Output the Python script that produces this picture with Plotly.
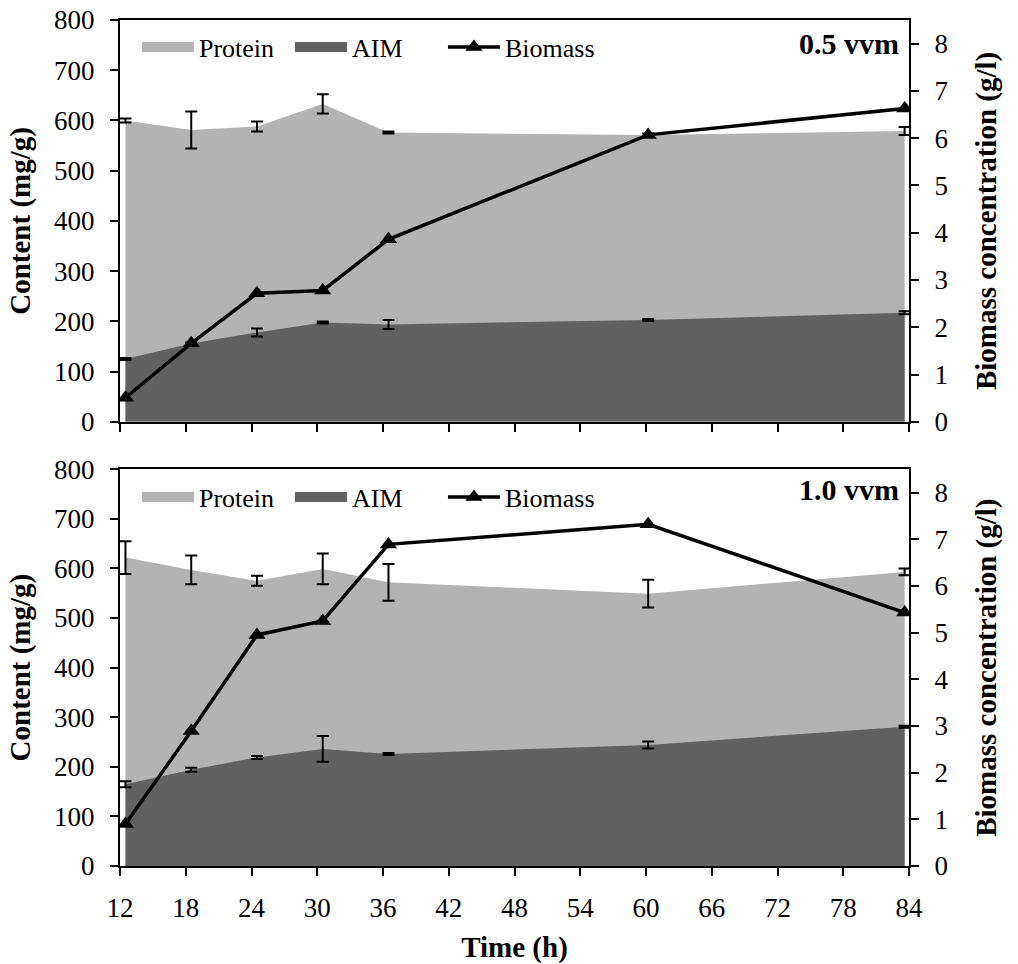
import plotly.graph_objects as go

# ---- data ----
time_h = [12.5, 18.5, 24.5, 30.5, 36.5, 60.2, 83.6]

protein_05 = [600, 581, 588, 633, 576, 571, 579]
protein_05_err = [4, 37, 10, 19, 2, 3, 8]
aim_05 = [125, 156, 178, 198, 194, 203, 217]
aim_05_err = [2, 2, 8, 2, 9, 2, 3]
biomass_05 = [0.51, 1.66, 2.72, 2.78, 3.86, 6.07, 6.63]

protein_10 = [622, 597, 575, 599, 572, 549, 593]
protein_10_err = [33, 29, 10, 31, 37, 28, 7]
aim_10 = [165, 194, 219, 236, 226, 244, 281]
aim_10_err = [6, 4, 3, 26, 2, 7, 2]
biomass_10 = [0.90, 2.89, 4.95, 5.25, 6.89, 7.32, 5.43]

panel_labels = ["0.5 vvm", "1.0 vvm"]
legend_names = ["Protein", "AIM", "Biomass"]

FONT = "Liberation Serif, Times New Roman, serif"
LIGHT = "#b3b3b3"
DARK = "#616161"

fig = go.Figure()

panels = [
    dict(xa="x", ya="y", ya2="y2", leg="legend",
         prot=protein_05, perr=protein_05_err, aim=aim_05, aerr=aim_05_err, bio=biomass_05),
    dict(xa="x2", ya="y3", ya2="y4", leg="legend2",
         prot=protein_10, perr=protein_10_err, aim=aim_10, aerr=aim_10_err, bio=biomass_10),
]

for p in panels:
    err_style = dict(type="data", visible=True, color="black", thickness=2, width=6)
    fig.add_trace(go.Scatter(
        x=time_h, y=p["prot"], xaxis=p["xa"], yaxis=p["ya"], mode="lines",
        fill="tozeroy", fillcolor=LIGHT, line=dict(width=0, color=LIGHT),
        error_y=dict(array=p["perr"], **err_style), showlegend=False, hoverinfo="skip"))
    fig.add_trace(go.Scatter(
        x=time_h, y=p["aim"], xaxis=p["xa"], yaxis=p["ya"], mode="lines",
        fill="tozeroy", fillcolor=DARK, line=dict(width=0, color=DARK),
        error_y=dict(array=p["aerr"], **err_style), showlegend=False, hoverinfo="skip"))
    fig.add_trace(go.Scatter(
        x=time_h, y=p["bio"], xaxis=p["xa"], yaxis=p["ya2"], mode="lines+markers",
        line=dict(color="black", width=3.5),
        marker=dict(symbol="triangle-up", size=15, color="black"),
        showlegend=False))
    # legend entries
    fig.add_trace(go.Scatter(x=[None], y=[None], xaxis=p["xa"], yaxis=p["ya"], mode="lines",
                             line=dict(color=LIGHT, width=10), name=legend_names[0], legend=p["leg"]))
    fig.add_trace(go.Scatter(x=[None], y=[None], xaxis=p["xa"], yaxis=p["ya"], mode="lines",
                             line=dict(color=DARK, width=10), name=legend_names[1], legend=p["leg"]))
    fig.add_trace(go.Scatter(x=[None], y=[None], xaxis=p["xa"], yaxis=p["ya2"], mode="lines+markers",
                             line=dict(color="black", width=3.5),
                             marker=dict(symbol="triangle-up", size=15, color="black"),
                             name=legend_names[2], legend=p["leg"]))

tickfont = dict(family=FONT, size=27, color="black")
titlefont = dict(family=FONT, size=29, color="black")

xbase = dict(range=[12, 84], tick0=12, dtick=6, ticks="outside", ticklen=8, tickwidth=1.5,
             tickcolor="black", showline=True, linecolor="black", linewidth=2, mirror=True,
             showgrid=False, zeroline=False, tickfont=tickfont, ticklabelstandoff=9,
             automargin=False)
ybase = dict(range=[0, 800], dtick=100, ticks="outside", ticklen=8, tickwidth=1.5,
             tickcolor="black", showline=True, linecolor="black", linewidth=2,
             showgrid=False, zeroline=False, tickfont=tickfont, ticklabelstandoff=10,
             automargin=False,
             title=dict(text="<b>Content (mg/g)</b>", font=titlefont, standoff=15))
y2base = dict(range=[0, 8.5], tick0=0, dtick=1, ticks="outside", ticklen=8, tickwidth=1.5,
              tickcolor="black", showline=True, linecolor="black", linewidth=2, side="right",
              showgrid=False, zeroline=False, tickfont=tickfont, ticklabelstandoff=10,
              automargin=False,
              title=dict(text="<b>Biomass concentration (g/l)</b>", font=titlefont, standoff=28))

legbase = dict(orientation="h", font=dict(family=FONT, size=26, color="black"),
               bgcolor="rgba(0,0,0,0)", itemwidth=52, xanchor="left", yanchor="middle",
               tracegroupgap=0, itemclick=False, entrywidth=86, entrywidthmode="pixels")

fig.update_layout(
    width=1018, height=964,
    margin=dict(l=120, r=109, t=20, b=98, autoexpand=False),
    paper_bgcolor="white", plot_bgcolor="white",
    xaxis=dict(**xbase, anchor="y", domain=[0, 1], showticklabels=False),
    yaxis=dict(**ybase, anchor="x", domain=[0.525, 1]),
    yaxis2=dict(**y2base, anchor="x", overlaying="y"),
    xaxis2=dict(**xbase, anchor="y3", domain=[0, 1],
                title=dict(text="<b>Time (h)</b>", font=titlefont, standoff=18)),
    yaxis3=dict(**ybase, anchor="x2", domain=[0, 0.469]),
    yaxis4=dict(**y2base, anchor="x2", overlaying="y3"),
    legend=dict(**legbase, x=0.0215, y=0.968),
    legend2=dict(**legbase, x=0.0215, y=0.436),
    annotations=[
        dict(text="<b>%s</b>" % panel_labels[0], xref="paper", yref="paper", x=0.99, y=0.972,
             xanchor="right", yanchor="middle", showarrow=False,
             font=dict(family=FONT, size=30, color="black")),
        dict(text="<b>%s</b>" % panel_labels[1], xref="paper", yref="paper", x=0.99, y=0.445,
             xanchor="right", yanchor="middle", showarrow=False,
             font=dict(family=FONT, size=30, color="black")),
    ],
)

# remove the browser's default 8px body margin so the figure fills the window exactly
fig.write_html("out.html", config={"displayModeBar": False},
               post_script="document.body.style.margin='0';")
